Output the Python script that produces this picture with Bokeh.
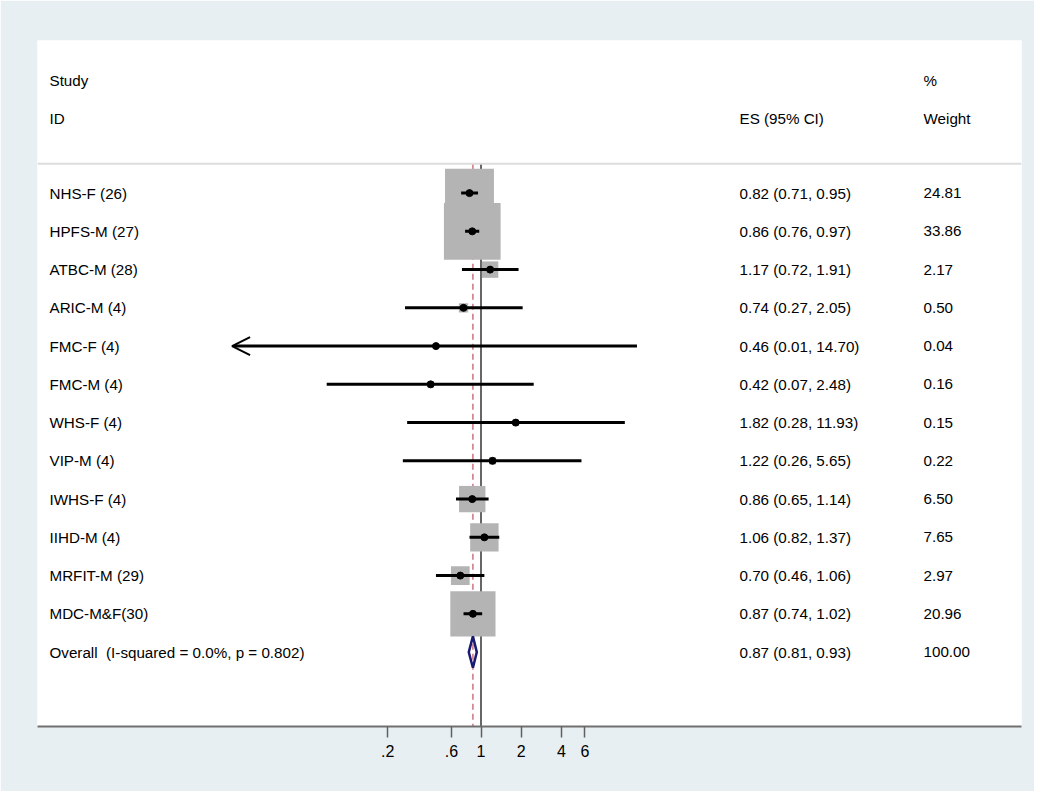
import numpy as np
from bokeh.plotting import figure
from bokeh.models import (Range1d, FixedTicker, Span, ColumnDataSource, Arrow,
                          OpenHead, LinearScale)
from bokeh.core.properties import value
from bokeh.embed import file_html
from bokeh.resources import INLINE

# ---------------- data ----------------
studies = ["NHS-F (26)", "HPFS-M (27)", "ATBC-M (28)", "ARIC-M (4)", "FMC-F (4)",
           "FMC-M (4)", "WHS-F (4)", "VIP-M (4)", "IWHS-F (4)", "IIHD-M (4)",
           "MRFIT-M (29)", "MDC-M&F(30)"]
es = [0.82, 0.86, 1.17, 0.74, 0.46, 0.42, 1.82, 1.22, 0.86, 1.06, 0.70, 0.87]
ci_low = [0.71, 0.76, 0.72, 0.27, 0.01, 0.07, 0.28, 0.26, 0.65, 0.82, 0.46, 0.74]
ci_high = [0.95, 0.97, 1.91, 2.05, 14.70, 2.48, 11.93, 5.65, 1.14, 1.37, 1.06, 1.02]
weights = [24.81, 33.86, 2.17, 0.50, 0.04, 0.16, 0.15, 0.22, 6.50, 7.65, 2.97, 20.96]

overall_label = "Overall \u00a0(I-squared = 0.0%, p = 0.802)"
overall_es = 0.87
overall_low = 0.81
overall_high = 0.93
overall_weight = 100.00

tick_values = [0.2, 0.6, 1.0, 2.0, 4.0, 6.0]
tick_labels = [".2", ".6", "1", "2", "4", "6"]

header_study = ["Study", "ID"]
header_es = "ES (95% CI)"
header_weight = ["%", "Weight"]

# ---------------- layout / style ----------------
BG = "#e8eff2"
FONT = "Liberation Sans"
FS = "15.2px"
X_LOW, X_HIGH = 0.000479, 11110.0
Y_TOP, Y_BOTTOM = -2.99, 14.945
CLIP_LOW = 0.0137
SEP_Y = 0.234
HDR_ROWS = [-1.944, -0.943]
COL_STUDY, COL_ES, COL_W = 12, 702, 886
BOX_GRAY = "#b4b4b4"

n = len(studies)
rows = list(range(1, n + 1))
overall_row = n + 1

p = figure(width=1034, height=791, x_axis_type="log",
           x_range=Range1d(X_LOW, X_HIGH), y_range=Range1d(Y_BOTTOM, Y_TOP),
           output_backend="svg", toolbar_location=None, y_axis_location=None,
           min_border_left=37, min_border_right=13, min_border_top=40,
           min_border_bottom=65, background_fill_color="white",
           border_fill_color=BG, outline_line_color=None)
p.grid.visible = False
p.extra_x_ranges = {"cols": Range1d(0, 984)}
p.extra_x_scales = {"cols": LinearScale()}

# separator under header
p.add_layout(Span(location=SEP_Y, dimension="width", line_color="#dcdcdc", line_width=2))

# null line and overall line
p.segment(x0=[1.0], y0=[SEP_Y], x1=[1.0], y1=[Y_BOTTOM], line_color="black", line_width=1.2)
p.segment(x0=[overall_es], y0=[SEP_Y], x1=[overall_es], y1=[Y_BOTTOM],
          line_color="#c0505f", line_width=1.2, line_dash="6 4")

# weight boxes
box_sizes = [9.27 * np.sqrt(w) + 2.75 for w in weights]
p.scatter(x=es, y=rows, marker="square", size=box_sizes,
          fill_color=BOX_GRAY, line_color=None)

# confidence intervals
normal = [i for i in range(n) if ci_low[i] >= CLIP_LOW]
clipped = [i for i in range(n) if ci_low[i] < CLIP_LOW]
p.segment(x0=[ci_low[i] for i in normal], y0=[rows[i] for i in normal],
          x1=[ci_high[i] for i in normal], y1=[rows[i] for i in normal],
          line_color="black", line_width=3)
arr_src = ColumnDataSource(dict(xs=[ci_high[i] for i in clipped],
                                xe=[CLIP_LOW for i in clipped],
                                y=[rows[i] for i in clipped]))
p.add_layout(Arrow(end=OpenHead(size=18, line_width=2, line_color="black"),
                   x_start="xs", y_start="y", x_end="xe", y_end="y",
                   source=arr_src, line_color="black", line_width=3))

# point estimates
p.scatter(x=es, y=rows, marker="circle", size=7, fill_color="black", line_color="black")

# overall diamond
h = 0.41
p.patch(x=[overall_low, overall_es, overall_high, overall_es],
        y=[overall_row, overall_row - h, overall_row, overall_row + h],
        fill_color=None, line_color="#1a1a73", line_width=2.5)

# text columns
txt = dict(x_range_name="cols", text_font=value(FONT), text_font_size=FS,
           text_color="black", text_baseline="middle", text_align="left")
labels = studies + [overall_label]
es_txt = [f"{e:.2f} ({l:.2f}, {u:.2f})" for e, l, u in zip(es, ci_low, ci_high)]
es_txt.append(f"{overall_es:.2f} ({overall_low:.2f}, {overall_high:.2f})")
w_txt = [f"{w:.2f}" for w in weights] + [f"{overall_weight:.2f}"]
all_rows = rows + [overall_row]

p.text(x=[COL_STUDY] * len(labels), y=all_rows, text=labels, **txt)
p.text(x=[COL_ES] * len(es_txt), y=all_rows, text=es_txt, **txt)
p.text(x=[COL_W] * len(w_txt), y=all_rows, text=w_txt, **txt)
p.text(x=[COL_STUDY, COL_STUDY], y=HDR_ROWS, text=header_study, **txt)
p.text(x=[COL_ES], y=[HDR_ROWS[1]], text=[header_es], **txt)
p.text(x=[COL_W, COL_W], y=HDR_ROWS, text=header_weight, **txt)

# axis
ax = p.xaxis[0]
ax.ticker = FixedTicker(ticks=tick_values)
ax.major_label_overrides = dict(zip(tick_values, tick_labels))
ax.minor_tick_line_color = None
ax.major_tick_in = 0
ax.major_tick_out = 11
ax.major_tick_line_color = "#606060"
ax.major_tick_line_width = 1.5
ax.axis_line_color = "#707070"
ax.axis_line_width = 2
ax.major_label_text_font = FONT
ax.major_label_text_font_size = "16px"
ax.major_label_text_color = "black"
ax.major_label_standoff = 7

open("out.html", "w").write(file_html(p, INLINE))
